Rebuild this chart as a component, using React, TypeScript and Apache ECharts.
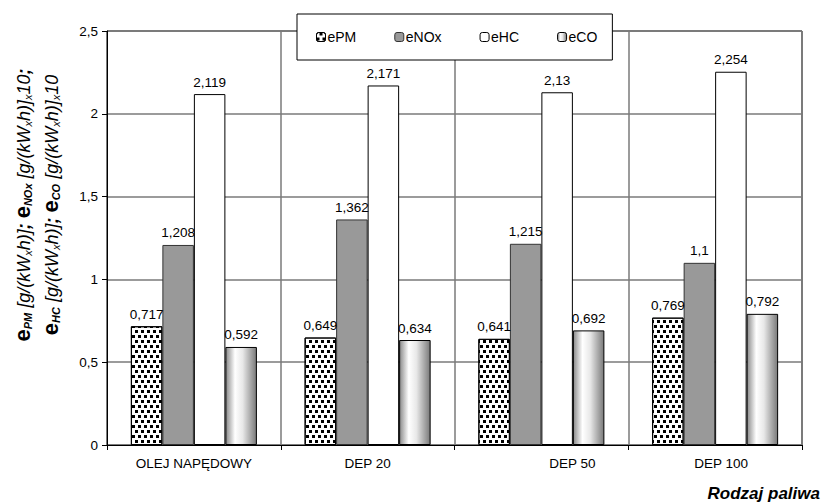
import React, { useEffect, useRef } from "react";
import * as echarts from "echarts";

const categories = ["OLEJ NAPĘDOWY", "DEP 20", "DEP 50", "DEP 100"];
const seriesNames = ["ePM", "eNOx", "eHC", "eCO"];
const ePM = [0.717, 0.649, 0.641, 0.769];
const eNOx = [1.208, 1.362, 1.215, 1.1];
const eHC = [2.119, 2.171, 2.13, 2.254];
const eCO = [0.592, 0.634, 0.692, 0.792];
const yTicks = { min: 0, max: 2.5, interval: 0.5 };

const FONT = "'Liberation Sans', Arial, sans-serif";
const comma = (v: number) => String(v).replace(".", ",");

export default function App() {
  const ref = useRef<HTMLDivElement>(null);
  useEffect(() => {
    if (!ref.current) return;
    const chart = echarts.init(ref.current, undefined, { renderer: "svg" });
    const label = {
      show: true,
      position: "top",
      distance: 5,
      color: "#000",
      fontSize: 13.5,
      fontFamily: FONT,
      formatter: (p: any) => comma(p.value),
    };
    const styles: any[] = [
      {
        color: "#fff",
        borderColor: "#000",
        borderWidth: 1,
        decal: {
          symbol: "rect",
          symbolSize: 1,
          color: "#000",
          backgroundColor: "#fff",
          dashArrayX: [[3, 3], [0, 3, 3, 0]],
          dashArrayY: [2.5, 2],
          rotation: 0,
        },
      },
      { color: "#999999", borderColor: "#333", borderWidth: 1 },
      { color: "#ffffff", borderColor: "#000", borderWidth: 1 },
      {
        color: {
          type: "linear",
          x: 0,
          y: 0,
          x2: 1,
          y2: 0,
          colorStops: [
            { offset: 0, color: "#8a8a8a" },
            { offset: 0.3, color: "#ffffff" },
            { offset: 0.55, color: "#e8e8e8" },
            { offset: 1, color: "#7a7a7a" },
          ],
        },
        borderColor: "#000",
        borderWidth: 1,
      },
    ];
    const data = [ePM, eNOx, eHC, eCO];
    const rich: any = {
      b: { fontSize: 22, fontWeight: "bold", fontFamily: FONT, verticalAlign: "bottom", lineHeight: 24 },
      bs: { fontSize: 11, fontWeight: "bold", fontStyle: "italic", fontFamily: FONT, verticalAlign: "bottom", lineHeight: 24 },
      i: { fontSize: 18, fontStyle: "italic", fontFamily: FONT, verticalAlign: "bottom", lineHeight: 24 },
      xs: { fontSize: 11, fontStyle: "italic", fontFamily: FONT, verticalAlign: "bottom", lineHeight: 24 },
      bb: { fontSize: 18, fontWeight: "bold", fontStyle: "italic", fontFamily: FONT, verticalAlign: "bottom", lineHeight: 24 },
    };
    const line1 =
      "{b|e}{bs|PM}{i| [g/(kW}{xs|x}{i|h)]}{bb|; }{b|e}{bs|NOx}{i| [g/(kW}{xs|x}{i|h)]}{xs|x}{i|10}{bb|;}";
    const line2 =
      "{b|e}{bs|HC}{i| [g/(kW}{xs|x}{i|h)]}{bb|; }{b|e}{bs|CO}{i| [g/(kW}{xs|x}{i|h)]}{xs|x}{i|10}";
    chart.setOption({
      animation: false,
      aria: { enabled: false, decal: { show: false } },
      grid: { left: 107, right: 25, top: 31, bottom: 59, show: true, borderColor: "#000", borderWidth: 1 },
      legend: {
        data: seriesNames,
        left: 297,
        top: 14,
        padding: [16, 15, 16, 19],
        itemGap: 38,
        itemWidth: 9,
        itemHeight: 9,
        itemStyle: { borderWidth: 1 },
        borderColor: "#000",
        borderWidth: 1,
        backgroundColor: "#fff",
        textStyle: { fontSize: 14, fontFamily: FONT, color: "#000", padding: [0, 0, 0, -3] },
      },
      xAxis: {
        type: "category",
        data: [
          categories[0],
          categories[1],
          { value: categories[2], textStyle: { padding: [0, 0, 0, 62] } },
          { value: categories[3], textStyle: { padding: [0, 0, 0, 12] } },
        ],
        axisLine: { lineStyle: { color: "#000", width: 1 } },
        axisTick: { show: true, length: 5, lineStyle: { color: "#000" } },
        axisLabel: { color: "#000", fontSize: 13.5, fontFamily: FONT, margin: 11 },
        splitLine: { show: true, lineStyle: { color: "#7a7a7a", width: 1.5 } },
      },
      yAxis: {
        type: "value",
        min: yTicks.min,
        max: yTicks.max,
        interval: yTicks.interval,
        axisLine: { show: true, lineStyle: { color: "#000", width: 1 } },
        axisTick: { show: true, length: 5, lineStyle: { color: "#000" } },
        axisLabel: { color: "#000", fontSize: 13.5, fontFamily: FONT, margin: 9, formatter: (v: number) => comma(v) },
        splitLine: { show: true, lineStyle: { color: "#7a7a7a", width: 1.5 } },
      },
      series: seriesNames.map((name, i) => ({
        name,
        type: "bar",
        data: data[i],
        barWidth: 31.5,
        barGap: "0%",
        itemStyle: styles[i],
        label,
        emphasis: { disabled: true },
      })),
      graphic: [
        {
          type: "text",
          x: 21,
          y: 205,
          rotation: Math.PI / 2,
          style: { text: line1, rich, align: "center", verticalAlign: "middle", fill: "#000" },
        },
        {
          type: "text",
          x: 49,
          y: 205,
          rotation: Math.PI / 2,
          style: { text: line2, rich, align: "center", verticalAlign: "middle", fill: "#000" },
        },
        {
          type: "text",
          x: 820,
          y: 493,
          style: {
            text: "Rodzaj paliwa",
            fontSize: 17,
            fontWeight: "bold",
            fontStyle: "italic",
            fontFamily: FONT,
            fill: "#000",
            align: "right",
            verticalAlign: "middle",
          },
        },
      ],
    });
    return () => chart.dispose();
  }, []);
  return <div ref={ref} style={{ width: 827, height: 504, position: "absolute", left: 0, top: 0 }} />;
}
